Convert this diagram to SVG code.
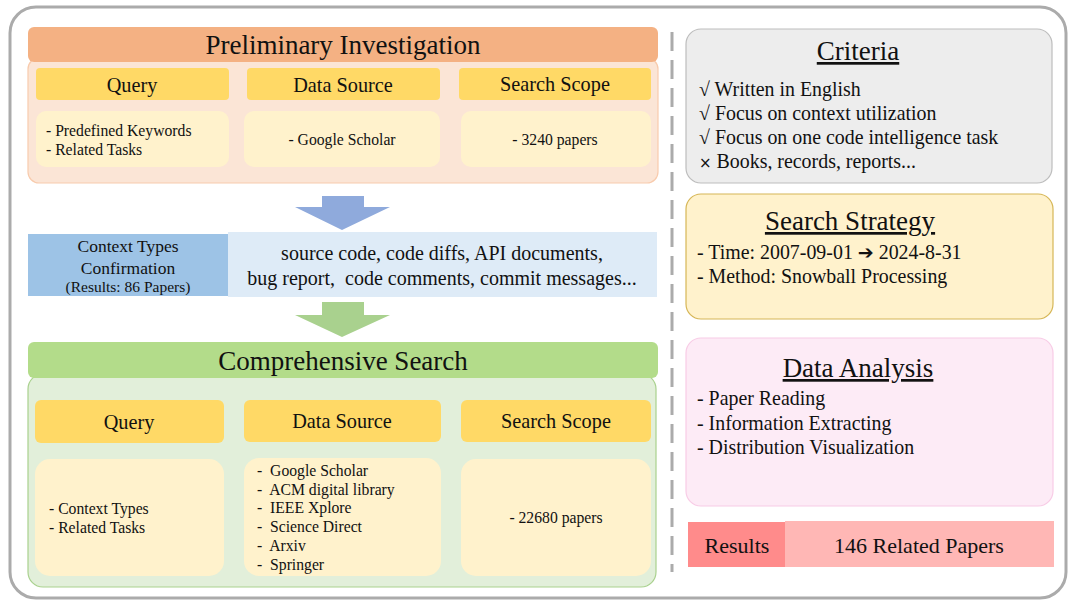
<svg xmlns="http://www.w3.org/2000/svg" width="1068" height="600" viewBox="0 0 1068 600">
<style>
text{font-family:"Liberation Serif","Times New Roman",serif;fill:#111}
.title{font-size:27px;text-anchor:middle}
.hdr{font-size:20.3px;text-anchor:middle}
.item{font-size:15.7px}
.mid{text-anchor:middle}
.yh{fill:#FFD966}
.yc{fill:#FFF2CC}
.side{font-size:19.9px}
.ul{text-decoration:underline}
</style>
<rect x="10" y="7" width="1056" height="591" rx="26" fill="#fff" stroke="#ABABAB" stroke-width="3"/>
<g id="connectors">
  <line x1="672" y1="32" x2="672" y2="572" stroke="#ABABAB" stroke-width="3" stroke-dasharray="19,9"/>
  <polygon points="322,196 364,196 364,207 390,207 342,230 295,207 322,207" fill="#8FAADC"/>
  <polygon points="322,302 364,302 364,315 390,315 342,337 295,315 322,315" fill="#A9D18E"/>
</g>
<g id="preliminary">
  <rect x="28" y="58" width="630" height="125" rx="11" fill="#FBE5D6" stroke="#F8CBAD" stroke-width="1.2"/>
  <rect x="28" y="27" width="630" height="35" rx="6" fill="#F4B183"/>
  <text class="title" x="343" y="54">Preliminary Investigation</text>
  <g id="pi-query">
    <rect class="yh" x="36" y="68" width="193" height="32" rx="4"/>
    <text class="hdr" x="132" y="92">Query</text>
    <rect class="yc" x="36" y="111" width="193" height="56" rx="10"/>
    <text class="item" x="46" y="136">- Predefined Keywords</text>
    <text class="item" x="46" y="155">- Related Tasks</text>
  </g>
  <g id="pi-source">
    <rect class="yh" x="247" y="68" width="193" height="32" rx="4"/>
    <text class="hdr" x="343" y="92">Data Source</text>
    <rect class="yc" x="244" y="111" width="196" height="56" rx="10"/>
    <text class="item mid" x="342" y="145">- Google Scholar</text>
  </g>
  <g id="pi-scope">
    <rect class="yh" x="459" y="68" width="192" height="32" rx="4"/>
    <text class="hdr" x="555" y="91">Search Scope</text>
    <rect class="yc" x="461" y="111" width="190" height="56" rx="10"/>
    <text class="item mid" x="555" y="145">- 3240 papers</text>
  </g>
</g>
<g id="context">
  <rect x="28" y="234" width="200" height="62" fill="#9DC3E6"/>
  <rect x="228" y="232" width="429" height="65" fill="#DEEBF7"/>
  <text class="mid" x="128" y="252" font-size="17.5">Context Types</text>
  <text class="mid" x="128" y="274" font-size="17.5">Confirmation</text>
  <text class="mid" x="128" y="292" font-size="15.5">(Results: 86 Papers)</text>
  <text class="mid" x="442" y="260" font-size="20">source code, code diffs, API documents,</text>
  <text class="mid" x="442" y="285" font-size="20">bug report,&#160; code comments, commit messages...</text>
</g>
<g id="comprehensive">
  <rect x="28" y="374" width="628" height="213" rx="15" fill="#E2EFDA" stroke="#A9D18E" stroke-width="1.2"/>
  <rect x="28" y="342" width="630" height="36" rx="6" fill="#B3DC8A"/>
  <text class="title" x="343" y="370">Comprehensive Search</text>
  <g id="cs-query">
    <rect class="yh" x="35" y="400" width="189" height="43" rx="6"/>
    <text class="hdr" x="129" y="429">Query</text>
    <rect class="yc" x="35" y="459" width="189" height="117" rx="15"/>
    <text class="item" x="49" y="514">- Context Types</text>
    <text class="item" x="49" y="533">- Related Tasks</text>
  </g>
  <g id="cs-source">
    <rect class="yh" x="244" y="400" width="197" height="42" rx="6"/>
    <text class="hdr" x="342" y="428">Data Source</text>
    <rect class="yc" x="244" y="458" width="197" height="118" rx="15"/>
    <g class="item">
      <text x="257" y="476">-&#160; Google Scholar</text>
      <text x="257" y="495">-&#160; ACM digital library</text>
      <text x="257" y="513">-&#160; IEEE Xplore</text>
      <text x="257" y="532">-&#160; Science Direct</text>
      <text x="257" y="551">-&#160; Arxiv</text>
      <text x="257" y="570">-&#160; Springer</text>
    </g>
  </g>
  <g id="cs-scope">
    <rect class="yh" x="461" y="400" width="190" height="42" rx="6"/>
    <text class="hdr" x="556" y="428">Search Scope</text>
    <rect class="yc" x="461" y="459" width="190" height="117" rx="15"/>
    <text class="item mid" x="556" y="523">- 22680 papers</text>
  </g>
</g>
<g id="criteria">
  <rect x="686" y="29" width="366" height="154" rx="15" fill="#EDEDED" stroke="#BDBDBD" stroke-width="1.2"/>
  <text class="title ul" x="858" y="60">Criteria</text>
  <text class="side" x="699" y="96">√ Written in English</text>
  <text class="side" x="699" y="120">√ Focus on context utilization</text>
  <text class="side" x="699" y="144">√ Focus on one code intelligence task</text>
  <text class="side" x="699" y="168"><tspan font-family="DejaVu Sans, sans-serif" font-size="15">×</tspan> Books, records, reports...</text>
</g>
<g id="strategy">
  <rect x="686" y="194" width="367" height="125" rx="15" fill="#FFF2CC" stroke="#D6B656" stroke-width="1.2"/>
  <text class="title ul" x="850" y="230">Search Strategy</text>
  <text class="side" x="697" y="259">- Time: 2007-09-01 <tspan font-family="DejaVu Sans, sans-serif" font-size="19" font-weight="bold">➔</tspan> 2024-8-31</text>
  <text class="side" x="697" y="283">- Method: Snowball Processing</text>
</g>
<g id="analysis">
  <rect x="686" y="338" width="367" height="168" rx="15" fill="#FDEBF6" stroke="#F8CCE6" stroke-width="1.2"/>
  <text class="title ul" x="858" y="377">Data Analysis</text>
  <text class="side" x="697" y="405">- Paper Reading</text>
  <text class="side" x="697" y="430">- Information Extracting</text>
  <text class="side" x="697" y="454">- Distribution Visualization</text>
</g>
<g id="results">
  <rect x="688" y="522" width="97" height="45" fill="#FF8B8B"/>
  <rect x="785" y="521" width="269" height="46" fill="#FFB7B5"/>
  <text class="mid" x="737" y="553" font-size="22">Results</text>
  <text class="mid" x="919" y="553" font-size="22">146 Related Papers</text>
</g>
</svg>
